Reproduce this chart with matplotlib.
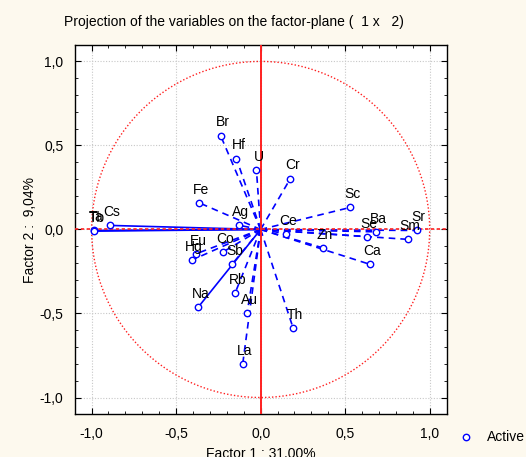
import numpy as np
import matplotlib
matplotlib.use("Agg")
import matplotlib.pyplot as plt
from matplotlib.lines import Line2D
from matplotlib.ticker import MultipleLocator, FuncFormatter

plt.rcParams['font.family'] = ['Liberation Sans', 'DejaVu Sans']

# Variable coordinates on factor 1 and factor 2
variables = ["Br", "Hf", "U", "Cr", "Sc", "Fe", "Ag", "Ce", "Zn", "Ca",
             "Se", "Ba", "Sm", "Sr", "Cs", "Ta", "Tb", "Eu", "Hg", "Co",
             "Sb", "Rb", "Na", "Au", "Th", "La"]
factor1 = [-0.237, -0.143, -0.025, 0.176, 0.530, -0.367, -0.129, 0.150, 0.366, 0.648,
           0.628, 0.683, 0.872, 0.923, -0.892, -0.988, -0.984, -0.380, -0.406, -0.224,
           -0.168, -0.150, -0.369, -0.080, 0.192, -0.106]
factor2 = [0.559, 0.422, 0.356, 0.303, 0.131, 0.160, 0.025, -0.025, -0.109, -0.208,
           -0.043, -0.014, -0.059, -0.006, 0.024, -0.006, -0.010, -0.144, -0.182, -0.135,
           -0.206, -0.376, -0.462, -0.495, -0.586, -0.800]
solid_vars = {"Cs", "Ta", "Tb", "Na"}

tick_values = [-1.0, -0.5, 0.0, 0.5, 1.0]

bg = '#fdf9ee'
blue = '#0000ff'
red = '#ff2020'
fs = 10

fig = plt.figure(figsize=(5.26, 4.57), dpi=100, facecolor=bg)
ax = fig.add_axes([0.142, 0.0934, 0.707, 0.809])
ax.set_facecolor('white')
ax.set_xlim(-1.1, 1.1)
ax.set_ylim(-1.1, 1.1)

# grid
for v in tick_values:
    ax.axvline(v, color='#c8c8c8', lw=0.8, ls=(0, (1, 1.5)), zorder=0)
    ax.axhline(v, color='#c8c8c8', lw=0.8, ls=(0, (1, 1.5)), zorder=0)

# unit circle
t = np.linspace(0, 2 * np.pi, 400)
ax.plot(np.cos(t), np.sin(t), color=red, lw=1.0, ls=(0, (1, 1.5)), zorder=1)

# vectors from the origin
for name, x, y in zip(variables, factor1, factor2):
    ls = '-' if name in solid_vars else (0, (4, 3))
    ax.plot([0, x], [0, y], color=blue, lw=1.2, ls=ls, zorder=2)

# axis lines through the origin
ax.axvline(0, color=red, lw=1.4, zorder=3)
ax.axhline(0, color=red, lw=1.2, ls=(0, (2, 1.5)), zorder=3)

ax.plot(factor1, factor2, ls='none', marker='o', ms=4.6, mfc='white',
        mec=blue, mew=1.0, zorder=4)

for name, x, y in zip(variables, factor1, factor2):
    ax.annotate(name, (x, y), xytext=(1.5, 9.4), textcoords='offset points',
                ha='center', va='center', fontsize=fs, color='black', zorder=5)

ax.xaxis.set_major_locator(MultipleLocator(0.5))
ax.yaxis.set_major_locator(MultipleLocator(0.5))
ax.xaxis.set_minor_locator(MultipleLocator(0.1))
ax.yaxis.set_minor_locator(MultipleLocator(0.1))
fmt = FuncFormatter(lambda v, p: f"{v:.1f}".replace('.', ',').replace('-0,0', '0,0'))
ax.xaxis.set_major_formatter(fmt)
ax.yaxis.set_major_formatter(fmt)
ax.tick_params(which='both', direction='in', top=True, right=True, labelsize=fs)
ax.tick_params(which='major', length=4, width=0.8)
ax.tick_params(which='minor', length=2, width=0.6)
ax.tick_params(axis='x', pad=9)
ax.tick_params(axis='y', pad=8)
for s in ax.spines.values():
    s.set_linewidth(1.0)
    s.set_color('black')

fig.text(64 / 526, 0.952, "Projection of the variables on the factor-plane (  1 x   2)",
         ha='left', va='center', fontsize=fs)
fig.text(30 / 526, 0.497, "Factor 2 :  9,04%", rotation=90, ha='center', va='center',
         fontsize=fs)
fig.text(261 / 526, -0.002, "Factor 1 : 31,00%", ha='center', va='baseline', fontsize=fs)

fig.add_artist(Line2D([466 / 526], [0.044], transform=fig.transFigure, ls='none',
                      marker='o', ms=4.6, mfc='white', mec=blue, mew=1.0))
fig.text(487 / 526, 0.044, "Active", ha='left', va='center', fontsize=fs)

fig.savefig("out.png", dpi=100, facecolor=bg)
